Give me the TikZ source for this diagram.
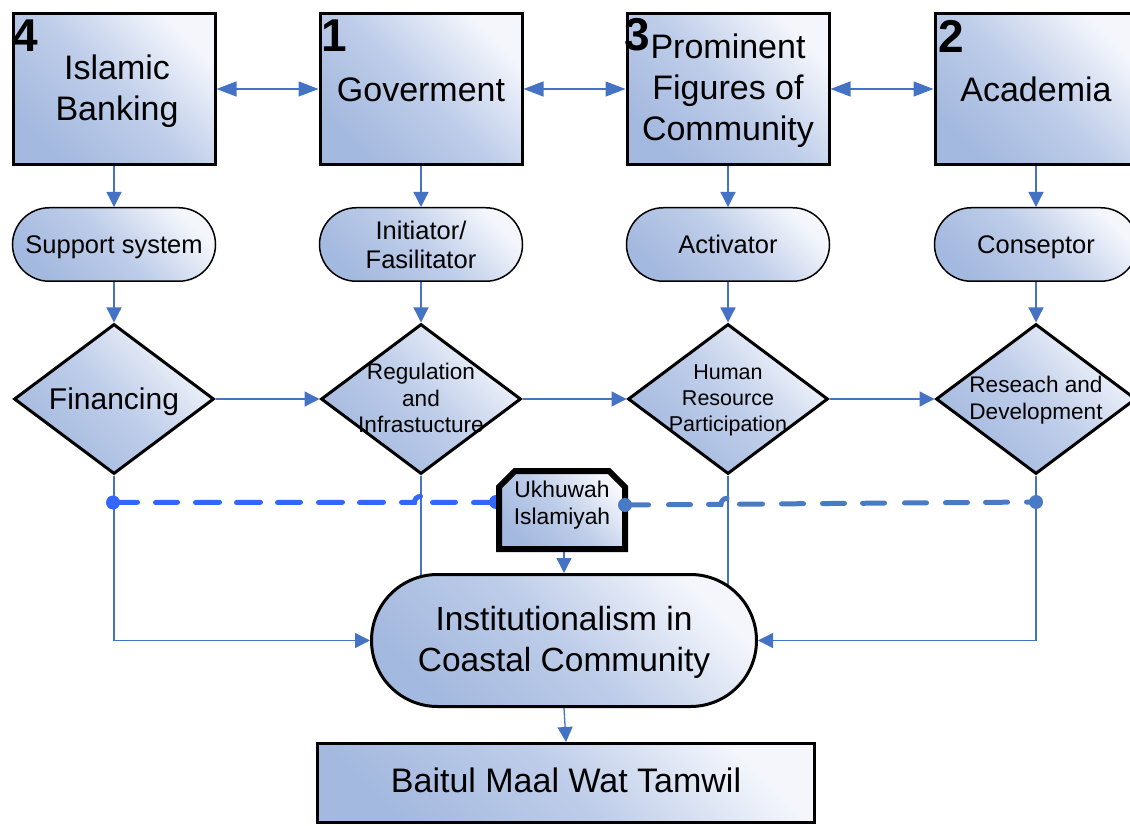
\documentclass[tikz,border=0pt]{standalone}
\usepackage{fontspec}
\setmainfont{Liberation Sans}
\usetikzlibrary{shapes.geometric,shapes.misc,arrows.meta}
\pgfdeclarelayer{bg}
\pgfdeclarelayer{mid}
\pgfsetlayers{bg,mid,main}
\definecolor{conn}{RGB}{68,114,196}
\definecolor{dashA}{RGB}{51,102,255}
\definecolor{dashB}{RGB}{72,122,198}
\definecolor{fdark}{RGB}{164,185,223}
\definecolor{fmid}{RGB}{190,205,233}
\definecolor{flight}{RGB}{244,246,252}
\tikzset{
  grad/.style={shading=axis, bottom color=fdark, top color=flight, middle color=fmid, shading angle=-45},
  topbox/.style={rectangle, draw=black, line width=3pt, grad, minimum width=202pt, minimum height=151pt, inner sep=0pt},
  toplab/.style={align=center, inner sep=0pt, font=\fontsize{34}{41}\selectfont},
  num/.style={anchor=north west, inner sep=0pt, font=\fontsize{46}{46}\selectfont\bfseries},
  pill/.style={rounded rectangle, draw=black, line width=1.5pt, grad, minimum width=203pt, minimum height=73.5pt, inner sep=0pt, align=center, font=\fontsize{25.5}{29}\selectfont},
  dia/.style={diamond, draw=black, line width=3pt, grad, minimum width=200pt, minimum height=150pt, inner sep=0pt, aspect=1.33},
  dlab/.style={align=center, font=\fontsize{22.6}{26.5}\selectfont, inner sep=0pt},
  arr/.style={draw=conn, line width=1.3pt, -{Triangle[length=15pt,width=15pt]}},
  arrboth/.style={draw=conn, line width=1.3pt, {Triangle[length=20pt,width=15pt]}-{Triangle[length=20pt,width=15pt]}},
  plain/.style={draw=conn, line width=1.3pt},
  dashseg/.style={line width=5pt, line cap=round},
}
\begin{document}
\begin{tikzpicture}[x=1pt,y=-1pt]
\useasboundingbox (0,0) rectangle (1130,826);

% top boxes
\node[topbox, label={[toplab, xshift=3pt, yshift=-2pt]center:Islamic\\Banking}] (b4) at (114,89) {};
\node[topbox, label={[toplab, yshift=-1pt]center:Goverment}] (b1) at (421,89) {};
\node[topbox, label={[toplab, yshift=-2pt]center:Prominent\\Figures of\\Community}] (b3) at (728,89) {};
\node[topbox, label={[toplab]center:Academia}] (b2) at (1036,89) {};
\node[num] (n4) at ([shift={(1,8)}]b4.north west) {4};
\node[num] (n1) at ([shift={(3,8)}]b1.north west) {1};
\node[num] (n3) at ([shift={(-1,6)}]b3.north west) {3};
\node[num] (n2) at ([shift={(5,8)}]b2.north west) {2};

% pills
\node[pill, text depth=0pt] (p4) at (114,244.5) {Support system};
\node[pill] (p1) at (421,244.5) {Initiator/\\Fasilitator};
\node[pill, text depth=0pt] (p3) at (728,244.5) {Activator};
\node[pill, text depth=0pt] (p2) at (1036,244.5) {Conseptor};

% diamonds
\node[dia, label={[font=\fontsize{30}{30}\selectfont, inner sep=0pt, text depth=0pt]center:Financing}] (d4) at (114,399) {};
\node[dia, label={[dlab, yshift=1pt]center:Regulation\\and\\Infrastucture}] (d1) at (421,399) {};
\node[dia, label={[dlab, font=\fontsize{21.5}{26}\selectfont, yshift=-1pt]center:Human\\Resource\\Participation}] (d3) at (728,399) {};
\node[dia, label={[dlab, yshift=-1pt]center:Reseach and\\Development}] (d2) at (1036,399) {};

% Ukhuwah
\node[rectangle, minimum width=126pt, minimum height=78pt, inner sep=0pt, outer sep=0pt,
  label={[align=center, font=\fontsize{22.8}{27}\selectfont, yshift=5pt, inner sep=0pt]center:Ukhuwah\\Islamiyah}] (ukh) at (562,510) {};

% bottom
\node[rounded rectangle, draw=black, line width=3pt, grad, minimum width=385pt, minimum height=132pt, inner sep=0pt,
  label={[align=center, inner sep=0pt, font=\fontsize{33.5}{41}\selectfont, yshift=-2pt]center:Institutionalism in\\Coastal Community}] (inst) at (564,640.5) {};
\node[rectangle, draw=black, line width=3pt, grad, minimum width=497pt, minimum height=79pt, inner sep=0pt,
  label={[inner sep=0pt, font=\fontsize{34}{40}\selectfont, yshift=3pt]center:Baitul Maal Wat Tamwil}] (bmt) at (566,783) {};

\coordinate (dA1) at (113,502.5);
\coordinate (dA2) at (496,502);
\coordinate (dB1) at (625,505);
\coordinate (dB2) at (1036,502);

\begin{pgfonlayer}{bg}
\draw[arrboth] (b4.east) -- (b1.west);
\draw[arrboth] (b1.east) -- (b3.west);
\draw[arrboth] (b3.east) -- (b2.west);
\foreach \c in {4,1,3,2}{
  \draw[arr] (b\c.south) -- (p\c.north);
  \draw[arr] (p\c.south) -- (d\c.north);
}
\draw[arr] (d4.east) -- (d1.west);
\draw[arr] (d1.east) -- (d3.west);
\draw[arr] (d3.east) -- (d2.west);
\draw[arr] (d4.south) |- (inst.west);
\draw[arr] (d2.south) |- (inst.east);
\draw[plain] (d1.south) -- (d1.south |- inst.center);
\draw[plain] (d3.south) -- (d3.south |- inst.center);
\draw[arr] (inst.north |- ukh.south) -- (inst.north);
\draw[arr] (inst.south) -- (bmt.north);
% dashed line 1 (Financing -- Ukhuwah), with a line jump over the Regulation line
\foreach \a/\b in {115/137.5, 155.5/177.5, 195.5/219.5, 236.5/260.5, 277.5/300.5, 318.5/342.5, 359.5/383.5, 432.5/455.5, 473.5/494}{
  \draw[dashseg, dashA] (\a,502.5) -- (\b,502.3);
}
\draw[dashseg, dashA] (401.5,502.4) -- (414.5,502.4) arc[start angle=180, end angle=270, radius=6];
\fill[dashA] (dA1) circle[radius=7];
\fill[dashA] (dA2) circle[radius=7];
\end{pgfonlayer}

\begin{pgfonlayer}{mid}
\path[draw=black, line width=6pt, line join=miter, grad]
  (ukh.south west) -- ([yshift=-16pt]ukh.north west) -- ([xshift=16pt]ukh.north west)
  -- ([xshift=-16pt]ukh.north east) -- ([yshift=-16pt]ukh.north east) -- (ukh.south east) -- cycle;
\end{pgfonlayer}

% dashed line 2 (Ukhuwah -- Research), with a line jump over the Human Resource line
\foreach \a/\b in {627/648.5, 668.5/690.5, 739.5/762.5, 781.5/803.5, 822.5/844.5, 862.5/884.5, 904.5/926.5, 945.5/967.5, 985.5/1007.5, 1026.5/1034}{
  \draw[dashseg, dashB] (\a,{505-0.0073*(\a-625)}) -- (\b,{505-0.0073*(\b-625)});
}
\draw[dashseg, dashB] (708.5,504.4) -- (721,504.3) arc[start angle=180, end angle=270, radius=6];
\fill[dashB] (dB1) circle[radius=7];
\fill[dashB] (dB2) circle[radius=7];
\end{tikzpicture}
\end{document}
